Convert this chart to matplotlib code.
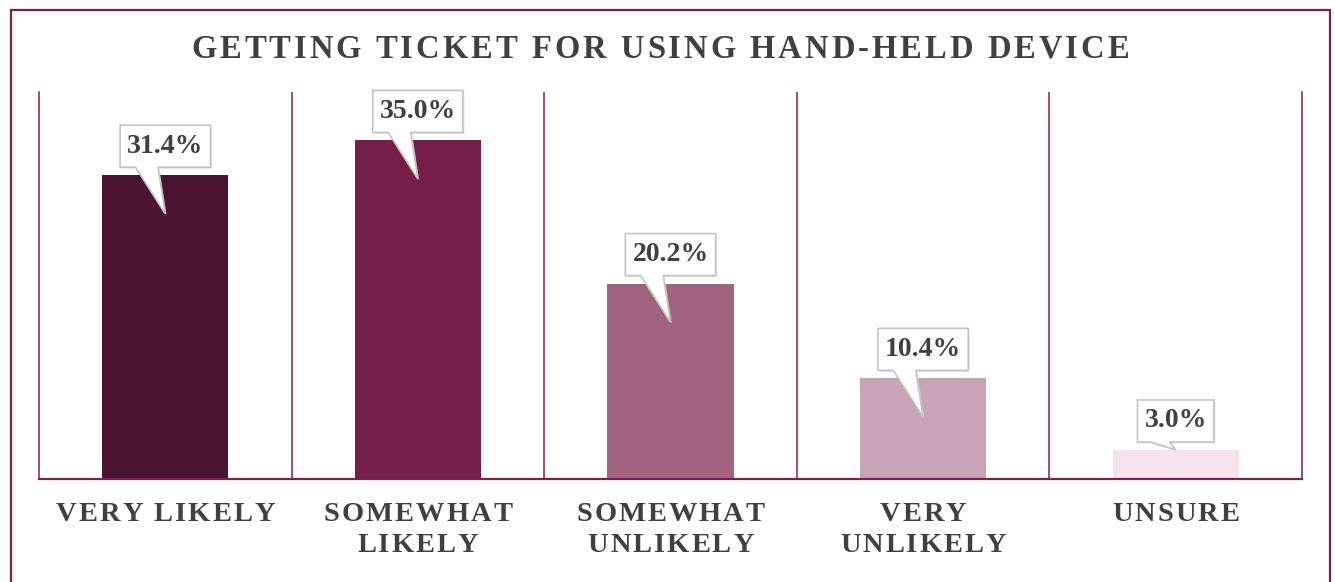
import matplotlib
matplotlib.use("Agg")
import matplotlib.pyplot as plt
from matplotlib.font_manager import FontProperties
from matplotlib.patches import Polygon, Rectangle

# survey answers and shares (%)
categories = ["VERY LIKELY", "SOMEWHAT\nLIKELY", "SOMEWHAT\nUNLIKELY", "VERY\nUNLIKELY", "UNSURE"]
values = [31.4, 35.0, 20.2, 10.4, 3.0]
bar_colors = ["#4a1430", "#761e4a", "#a2637f", "#c9a3b6", "#f6e4ec"]
title = "GETTING TICKET FOR USING HAND-HELD DEVICE"

MAROON = "#7a2150"
TEXT = "#404040"
W, H, DPI = 1335, 582, 100

fig = plt.figure(figsize=(W / DPI, H / DPI), dpi=DPI)
ax = fig.add_axes([39 / W, (H - 479) / H, (1302 - 39) / W, (479 - 92) / H])
ax.bar(range(len(values)), values, width=0.5, color=bar_colors, zorder=2)
ax.set_xlim(-0.5, len(values) - 0.5)
ax.set_ylim(0, 40)
ax.set_xticks([])
ax.set_yticks([])
ax.spines["top"].set_visible(False)
for side in ["left", "right"]:
    ax.spines[side].set_color(MAROON)
    ax.spines[side].set_linewidth(1.1)
ax.spines["bottom"].set_color(MAROON)
ax.spines["bottom"].set_linewidth(1.6)
for b in range(len(values) - 1):
    ax.axvline(b + 0.5, color=MAROON, lw=1.1, zorder=1)

# frame around the whole chart (open at the bottom edge)
fig.patches.append(Rectangle((11 / W, -0.1), (1330 - 11) / W, (H - 10) / H + 0.1,
                             transform=fig.transFigure, fill=False,
                             edgecolor=MAROON, lw=1.6, clip_on=False))

renderer = fig.canvas.get_renderer()


def text_width(s, prop):
    # advance width incl. side bearings, measured between two H's
    w = lambda t: renderer.get_text_width_height_descent(t, prop, ismath=False)[0]
    return w("H" + s + "H") - w("HH")


def spaced_text(cx, baseline, s, prop, track):
    widths = [text_width(c, prop) for c in s]
    total = sum(widths) + track * (len(s) - 1)
    xpos = cx - total / 2
    for c, w in zip(s, widths):
        fig.text(xpos / W, baseline / H, c, fontproperties=prop, color=TEXT,
                 ha="left", va="baseline")
        xpos += w + track


to_data = ax.transData.inverted()

# value callouts
vfont = FontProperties(family="Liberation Serif", weight="bold", size=20)
for i, v in enumerate(values):
    cx, top = ax.transData.transform((i, v))
    label = f"{v:.1f}%"
    bw = renderer.get_text_width_height_descent(label, vfont, ismath=False)[0] + 14
    L, R = cx - bw / 2, cx + bw / 2
    B = top + 8
    T = B + 42
    tip_y = ax.transData.transform((i, v - 4 if v > 8 else v))[1]
    pts = [(L, B), (L + 0.17 * bw, B), (cx, tip_y), (L + 0.42 * bw, B),
           (R, B), (R, T), (L, T)]
    shadow = [(px + 1.5, py - 1.5) for px, py in pts]
    ax.add_patch(Polygon(to_data.transform(shadow), closed=True, facecolor="#d0d0d0",
                         edgecolor="none", alpha=0.6, zorder=3, clip_on=False))
    ax.add_patch(Polygon(to_data.transform(pts), closed=True, facecolor="white",
                         edgecolor="#c4c4c4", lw=1.2, zorder=4, clip_on=False))
    tx, ty = to_data.transform((cx, (B + T) / 2))
    ax.text(tx, ty, label, fontproperties=vfont, color=TEXT, ha="center",
            va="center", zorder=5, clip_on=False)

# title and category labels with letter spacing
tfont = FontProperties(family="Liberation Serif", weight="bold", size=23.5)
spaced_text(660, H - 58, title, tfont, 3)

cfont = FontProperties(family="Liberation Serif", weight="bold", size=20.5)
for i, cat in enumerate(categories):
    cx = ax.transData.transform((i, 0))[0]
    for k, line in enumerate(cat.split("\n")):
        spaced_text(cx, H - 521 - 31 * k, line, cfont, 2)

fig.savefig("out.png", dpi=DPI)
